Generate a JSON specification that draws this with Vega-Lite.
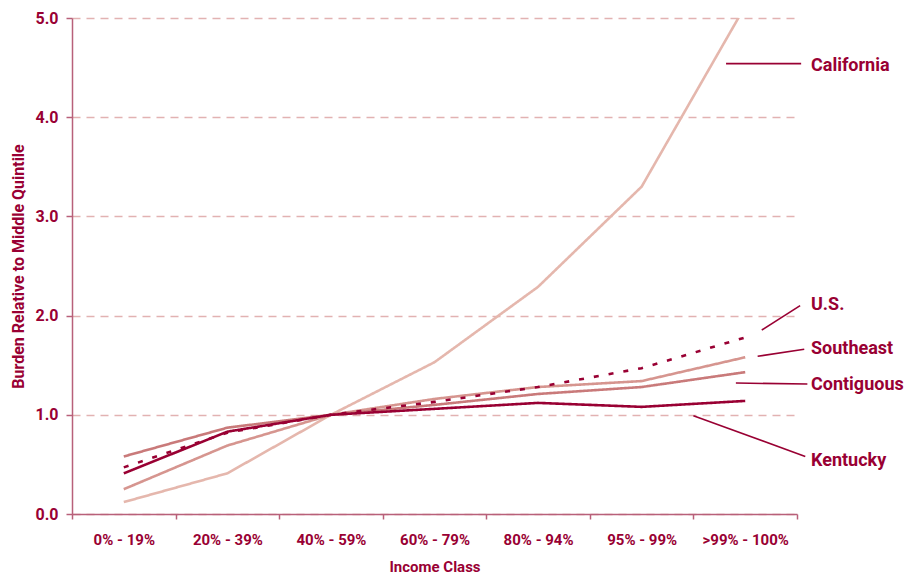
{
  "$schema": "https://vega.github.io/schema/vega-lite/v6.json",
  "width": 725,
  "height": 496,
  "autosize": {"type": "none"},
  "padding": {"left": 72, "top": 18, "right": 110, "bottom": 63},
  "background": "white",
  "config": {
    "view": {"stroke": null},
    "font": "Roboto, sans-serif"
  },
  "datasets": {
    "series": [
      {"region": "California", "idx": 0, "income": "0% - 19%", "burden": 0.12},
      {"region": "California", "idx": 1, "income": "20% - 39%", "burden": 0.41},
      {"region": "California", "idx": 2, "income": "40% - 59%", "burden": 1.0},
      {"region": "California", "idx": 3, "income": "60% - 79%", "burden": 1.53},
      {"region": "California", "idx": 4, "income": "80% - 94%", "burden": 2.29},
      {"region": "California", "idx": 5, "income": "95% - 99%", "burden": 3.3},
      {"region": "California", "idx": 6, "income": ">99% - 100%", "burden": 5.12},
      {"region": "Southeast", "idx": 0, "income": "0% - 19%", "burden": 0.25},
      {"region": "Southeast", "idx": 1, "income": "20% - 39%", "burden": 0.69},
      {"region": "Southeast", "idx": 2, "income": "40% - 59%", "burden": 1.0},
      {"region": "Southeast", "idx": 3, "income": "60% - 79%", "burden": 1.16},
      {"region": "Southeast", "idx": 4, "income": "80% - 94%", "burden": 1.28},
      {"region": "Southeast", "idx": 5, "income": "95% - 99%", "burden": 1.34},
      {"region": "Southeast", "idx": 6, "income": ">99% - 100%", "burden": 1.58},
      {"region": "Contiguous", "idx": 0, "income": "0% - 19%", "burden": 0.58},
      {"region": "Contiguous", "idx": 1, "income": "20% - 39%", "burden": 0.87},
      {"region": "Contiguous", "idx": 2, "income": "40% - 59%", "burden": 1.0},
      {"region": "Contiguous", "idx": 3, "income": "60% - 79%", "burden": 1.1},
      {"region": "Contiguous", "idx": 4, "income": "80% - 94%", "burden": 1.21},
      {"region": "Contiguous", "idx": 5, "income": "95% - 99%", "burden": 1.28},
      {"region": "Contiguous", "idx": 6, "income": ">99% - 100%", "burden": 1.43},
      {"region": "U.S.", "idx": 0, "income": "0% - 19%", "burden": 0.47},
      {"region": "U.S.", "idx": 1, "income": "20% - 39%", "burden": 0.82},
      {"region": "U.S.", "idx": 2, "income": "40% - 59%", "burden": 1.0},
      {"region": "U.S.", "idx": 3, "income": "60% - 79%", "burden": 1.13},
      {"region": "U.S.", "idx": 4, "income": "80% - 94%", "burden": 1.28},
      {"region": "U.S.", "idx": 5, "income": "95% - 99%", "burden": 1.47},
      {"region": "U.S.", "idx": 6, "income": ">99% - 100%", "burden": 1.78},
      {"region": "Kentucky", "idx": 0, "income": "0% - 19%", "burden": 0.41},
      {"region": "Kentucky", "idx": 1, "income": "20% - 39%", "burden": 0.83},
      {"region": "Kentucky", "idx": 2, "income": "40% - 59%", "burden": 1.0},
      {"region": "Kentucky", "idx": 3, "income": "60% - 79%", "burden": 1.06},
      {"region": "Kentucky", "idx": 4, "income": "80% - 94%", "burden": 1.12},
      {"region": "Kentucky", "idx": 5, "income": "95% - 99%", "burden": 1.08},
      {"region": "Kentucky", "idx": 6, "income": ">99% - 100%", "burden": 1.14}
    ],
    "labels": [
      {"region": "California", "lx": 6.635, "ly": 4.52, "x1": 5.815, "y1": 4.54, "x2": 6.54, "y2": 4.54},
      {"region": "U.S.", "lx": 6.635, "ly": 2.11, "x1": 6.16, "y1": 1.855, "x2": 6.53, "y2": 2.1},
      {"region": "Southeast", "lx": 6.635, "ly": 1.66, "x1": 6.12, "y1": 1.59, "x2": 6.57, "y2": 1.66},
      {"region": "Contiguous", "lx": 6.635, "ly": 1.3, "x1": 5.91, "y1": 1.32, "x2": 6.6, "y2": 1.31},
      {"region": "Kentucky", "lx": 6.635, "ly": 0.53, "x1": 5.5, "y1": 0.99, "x2": 6.58, "y2": 0.58}
    ]
  },
  "layer": [
    {
      "data": {"name": "series"},
      "mark": {"type": "line", "clip": true, "strokeWidth": 2.6},
      "encoding": {
        "x": {
          "field": "idx",
          "type": "quantitative",
          "scale": {"domain": [-0.5, 6.5], "nice": false, "zero": false},
          "axis": {
            "values": [-0.5, 0.5, 1.5, 2.5, 3.5, 4.5, 5.5, 6.5],
            "labelExpr": "datum.value < 6 ? ['0% - 19%','20% - 39%','40% - 59%','60% - 79%','80% - 94%','95% - 99%','>99% - 100%'][datum.value + 0.5] : ''",
            "labelOffset": 51.8,
            "labelOverlap": false,
            "labelBound": false,
            "labelFlush": false,
            "labelPadding": 13,
            "labelFontSize": 15,
            "labelFontWeight": "bold",
            "labelColor": "#990033",
            "grid": false,
            "domainColor": "#b8607a",
            "domainWidth": 1.5,
            "tickColor": "#b8607a",
            "tickWidth": 1.5,
            "tickSize": 5,
            "title": "Income Class",
            "titleFontSize": 15,
            "titleFontWeight": "bold",
            "titleColor": "#990033",
            "titlePadding": 12
          }
        },
        "y": {
          "field": "burden",
          "type": "quantitative",
          "scale": {"domain": [0, 5], "nice": false},
          "axis": {
            "values": [0, 1, 2, 3, 4, 5],
            "format": ".1f",
            "labelFontSize": 16,
            "labelFontWeight": "bold",
            "labelColor": "#990033",
            "labelPadding": 8,
            "grid": true,
            "gridColor": "#e2b2b2",
            "gridDash": [8, 6],
            "gridWidth": 1.5,
            "domainColor": "#b8607a",
            "domainWidth": 1.5,
            "tickColor": "#b8607a",
            "tickWidth": 1.5,
            "tickSize": 6,
            "title": "Burden Relative to Middle Quintile",
            "titleFontSize": 16,
            "titleFontWeight": "bold",
            "titleColor": "#990033",
            "titlePadding": 9
          }
        },
        "color": {
          "field": "region",
          "type": "nominal",
          "scale": {
            "domain": ["California", "Southeast", "Contiguous", "U.S.", "Kentucky"],
            "range": ["#e5b7ad", "#d6958f", "#c97a7a", "#990033", "#990033"]
          },
          "legend": null
        },
        "strokeDash": {
          "field": "region",
          "type": "nominal",
          "scale": {
            "domain": ["California", "Southeast", "Contiguous", "U.S.", "Kentucky"],
            "range": [[1, 0], [1, 0], [1, 0], [5, 10], [1, 0]]
          },
          "legend": null
        },
        "strokeWidth": {
          "field": "region",
          "type": "nominal",
          "scale": {
            "domain": ["California", "Southeast", "Contiguous", "U.S.", "Kentucky"],
            "range": [2.6, 2.6, 2.6, 3.2, 2.6]
          },
          "legend": null
        },
        "order": {"field": "idx"}
      }
    },
    {
      "data": {"name": "labels"},
      "mark": {"type": "rule", "color": "#990033", "strokeWidth": 1.6},
      "encoding": {
        "x": {"field": "x1", "type": "quantitative"},
        "x2": {"field": "x2"},
        "y": {"field": "y1", "type": "quantitative"},
        "y2": {"field": "y2"}
      }
    },
    {
      "data": {"name": "labels"},
      "mark": {"type": "text", "align": "left", "baseline": "middle", "fontSize": 18, "fontWeight": "bold", "color": "#990033"},
      "encoding": {
        "x": {"field": "lx", "type": "quantitative"},
        "y": {"field": "ly", "type": "quantitative"},
        "text": {"field": "region"}
      }
    }
  ]
}
